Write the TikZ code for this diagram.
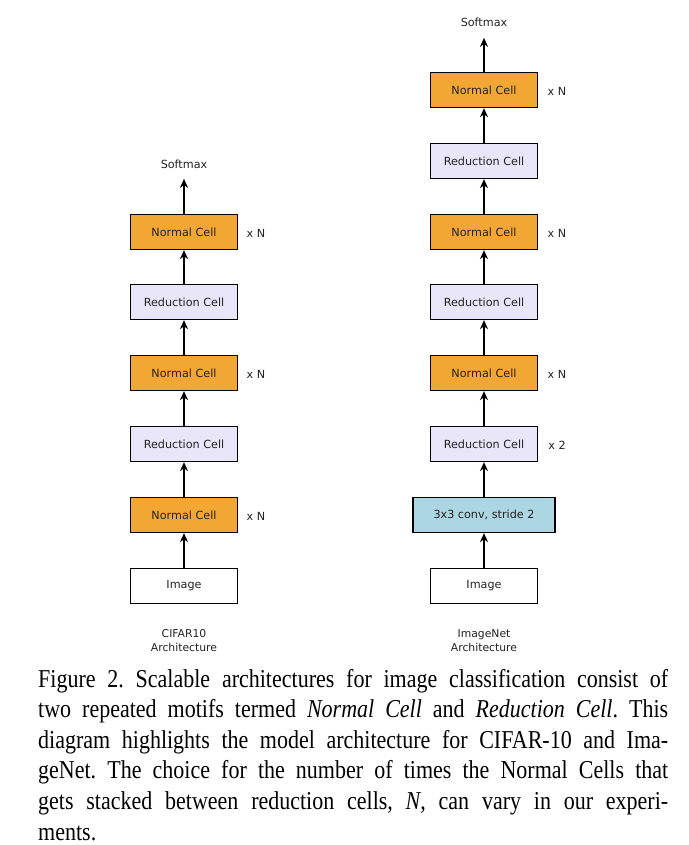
\documentclass[tikz,border=0pt]{standalone}
\usepackage{fontspec}
\setmainfont{Liberation Serif}
\newfontfamily\diagfont{DejaVu Sans}
\usetikzlibrary{arrows.meta}
\definecolor{cellorange}{RGB}{242,166,52}
\definecolor{celllav}{RGB}{232,230,248}
\definecolor{cellblue}{RGB}{172,214,226}
\definecolor{txtgrey}{RGB}{35,35,35}
\newcommand{\capstretch}[1]{\scalebox{1}[1.17]{#1}}
\tikzset{
  cell/.style={draw=black, line width=1.3pt, minimum width=107pt, minimum height=35pt, inner sep=0pt,
    font=\diagfont\fontsize{11.2}{13}\selectfont, text=txtgrey},
  normalcell/.style={cell, fill=cellorange},
  redcell/.style={cell, fill=celllav},
  convcell/.style={cell, fill=cellblue, minimum width=142pt},
  imgcell/.style={cell, fill=white},
  lbl/.style={font=\diagfont\fontsize{11.2}{13}\selectfont, text=txtgrey, inner sep=0pt},
  small/.style={font=\diagfont\fontsize{10.8}{14}\selectfont, text=txtgrey, inner sep=0pt, align=center},
  flow/.style={line width=1.3pt, -{Stealth[length=9pt,width=8pt]}},
  capline/.style={anchor=base west, inner sep=0pt, font=\fontsize{22}{28}\selectfont}
}
\begin{document}
\frenchspacing
\begin{tikzpicture}[x=1pt,y=-1pt]
\useasboundingbox (0,0) rectangle (688,845);
\fill[white] (0,0) rectangle (688,845);
% Left column (CIFAR10)
\node[lbl] (lsm) at (184,164) {Softmax};
\node[normalcell] (ln3) at (184,232) {Normal Cell};
\node[redcell] (lr2) at (184,302) {Reduction Cell};
\node[normalcell] (ln2) at (184,373) {Normal Cell};
\node[redcell] (lr1) at (184,444) {Reduction Cell};
\node[normalcell] (ln1) at (184,515) {Normal Cell};
\node[imgcell] (limg) at (184,586) {Image};
\node[lbl] (lx3) at (256,233) {x N};
\node[lbl] (lx2) at (256,374) {x N};
\node[lbl] (lx1) at (256,516) {x N};
\node[small] (lcap) at (184,641) {CIFAR10\\Architecture};
\draw[flow] (limg) -- (ln1);
\draw[flow] (ln1) -- (lr1);
\draw[flow] (lr1) -- (ln2);
\draw[flow] (ln2) -- (lr2);
\draw[flow] (lr2) -- (ln3);
\draw[flow] (ln3.north) -- ++(0,-35) coordinate (lsmin);
% Right column (ImageNet)
\node[lbl] (rsm) at (484,22) {Softmax};
\node[normalcell] (rn3) at (484,90) {Normal Cell};
\node[redcell] (rr3) at (484,161) {Reduction Cell};
\node[normalcell] (rn2) at (484,232) {Normal Cell};
\node[redcell] (rr2) at (484,302) {Reduction Cell};
\node[normalcell] (rn1) at (484,373) {Normal Cell};
\node[redcell] (rr1) at (484,444) {Reduction Cell};
\node[convcell] (rconv) at (484,515) {3x3 conv, stride 2};
\node[imgcell] (rimg) at (484,586) {Image};
\node[lbl] (rx3) at (557,91) {x N};
\node[lbl] (rx2) at (557,233) {x N};
\node[lbl] (rx1) at (557,374) {x N};
\node[lbl] (rx0) at (557,445) {x 2};
\node[small] (rcap) at (484,641) {ImageNet\\Architecture};
\draw[flow] (rimg) -- (rconv);
\draw[flow] (rconv) -- (rr1);
\draw[flow] (rr1) -- (rn1);
\draw[flow] (rn1) -- (rr2);
\draw[flow] (rr2) -- (rn2);
\draw[flow] (rn2) -- (rr3);
\draw[flow] (rr3) -- (rn3);
\draw[flow] (rn3.north) -- ++(0,-34) coordinate (rsmin);
% Caption
\node[capline] (c1) at (38,687) {\capstretch{\makebox[630pt][s]{Figure 2. Scalable architectures for image classification consist of}}};
\node[capline] (c2) at (38,717.6) {\capstretch{\makebox[630pt][s]{two repeated motifs termed \textit{Normal Cell} and \textit{Reduction Cell}. This}}};
\node[capline] (c3) at (38,748.2) {\capstretch{\makebox[630pt][s]{diagram highlights the model architecture for CIFAR-10 and Ima-}}};
\node[capline] (c4) at (38,778.8) {\capstretch{\makebox[630pt][s]{geNet. The choice for the number of times the Normal Cells that}}};
\node[capline] (c5) at (38,809.4) {\capstretch{\makebox[630pt][s]{gets stacked between reduction cells, \textit{N}, can vary in our experi-}}};
\node[capline] (c6) at (38,840) {\capstretch{ments.}};
\end{tikzpicture}
\end{document}
